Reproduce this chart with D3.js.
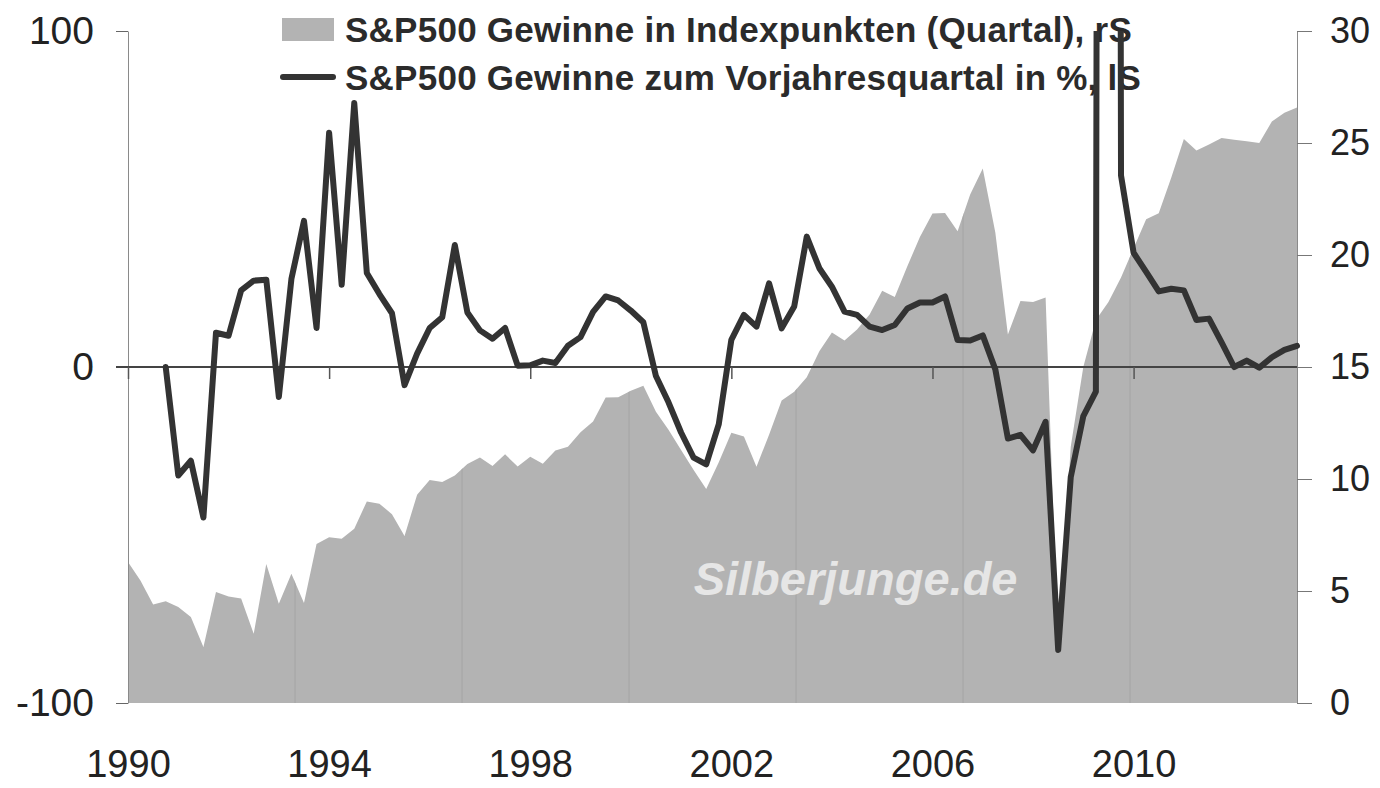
<!DOCTYPE html>
<html>
<head>
<meta charset="utf-8">
<script src="https://cdn.jsdelivr.net/npm/d3@7"></script>
<style>
  body { margin: 0; background: #fff; }
  svg { display: block; font-family: "Liberation Sans", Arial, sans-serif; }
</style>
</head>
<body>
<div class="canvas"></div>
<script>
// tick labels
const yearLabels = ['1990', '1994', '1998', '2002', '2006', '2010']
const leftTicks = [-100, 0, 100]
const rightTicks = [0, 5, 10, 15, 20, 25, 30]

// S&P500 Gewinne in Indexpunkten (Quartal), right axis - 1990 Q1 .. 2013 Q2
const earnings = [
  6.3, 5.46, 4.4, 4.54, 4.29, 3.84, 2.5, 4.95, 4.76, 4.66,
  3.09, 6.2, 4.43, 5.77, 4.46, 7.1, 7.4, 7.33, 7.78, 9.0,
  8.9, 8.43, 7.46, 9.3, 9.95, 9.87, 10.16, 10.67, 10.96, 10.58,
  11.1, 10.56, 10.99, 10.68, 11.27, 11.44, 12.09, 12.57, 13.64, 13.65,
  13.94, 14.16, 13.0, 12.2, 11.3, 10.4, 9.55, 10.75, 12.06, 11.9,
  10.55, 11.98, 13.5, 13.9, 14.54, 15.7, 16.54, 16.18, 16.67, 17.34,
  18.4, 18.13, 19.5, 20.8, 21.85, 21.87, 21.06, 22.7, 23.86, 21.0,
  16.45, 17.95, 17.9, 18.1, 2.4, 11.44, 15.0, 17.1, 17.9, 19.0,
  20.3, 21.6, 21.86, 23.46, 25.18, 24.67, 24.93, 25.22, 25.15, 25.08,
  25.0, 25.96, 26.35, 26.58
]

// S&P500 Gewinne zum Vorjahresquartal in %, left axis (one quarter runs far off the chart)
const yoyChange = [
  null, null, null, 0, -32.3, -27.9, -44.8, 10.2, 9.3, 22.8,
  25.7, 26, -8.9, 26.2, 43.5, 11.6, 69.7, 24.5, 78.6, 28,
  21.7, 16, -5.4, 4, 11.6, 14.8, 36.3, 16.2, 10.9, 8.4,
  11.6, 0.4, 0.5, 1.9, 1.2, 6.3, 8.9, 16.4, 21, 19.8,
  16.8, 13.3, -2.7, -10.5, -19.5, -27, -29, -17, 8.1, 15.5,
  12, 24.9, 11.5, 18, 38.8, 29.4, 23.9, 16.5, 15.5, 12,
  11, 12.5, 17.4, 19.2, 19.2, 21, 8, 7.9, 9.4, -0.7,
  -21.3, -20.2, -24.8, -16.3, -84.2, -32.8, -14.6, -7.3, 2000, 57,
  34, 28.3, 22.5, 23.3, 22.8, 14, 14.4, 7.3, 0, 1.9,
  -0.2, 2.9, 5.1, 6.3
]

const legendLabels = [
  'S&P500 Gewinne in Indexpunkten (Quartal), rS',
  'S&P500 Gewinne zum Vorjahresquartal in %, lS'
]

const quarters = d3.range(earnings.length).map(i => `${1990 + Math.floor(i / 4)} Q${i % 4 + 1}`)

const width = 1380
const height = 788
const xLeft = 128
const xRight = 1297
const yTop = 31
const yBottom = 703

const areaGrey = '#b3b3b3'
const lineColor = '#333333'
const textColor = '#222222'

const svg = d3.select('.canvas').append('svg')
    .attr('width', width)
    .attr('height', height)

const x = d3.scaleLinear().domain([0, earnings.length - 1]).range([xLeft, xRight])
const yLeft = d3.scaleLinear().domain([-100, 100]).range([yBottom, yTop])
const yRight = d3.scaleLinear().domain([0, 30]).range([yBottom, yTop])

const defs = svg.append('defs')

const areaGen = d3.area()
    .x((d, i) => x(i))
    .y0(yRight(0))
    .y1(d => yRight(d))

defs.append('clipPath').attr('id', 'areaClip')
    .append('path').attr('d', areaGen(earnings))

defs.append('clipPath').attr('id', 'plotClip')
    .append('rect')
    .attr('x', xLeft - 10)
    .attr('y', yTop)
    .attr('width', xRight - xLeft + 20)
    .attr('height', yBottom - yTop + 10)

// grey area (right axis)
svg.append('path')
    .attr('d', areaGen(earnings))
    .attr('fill', areaGrey)

// faint vertical lines that show inside the area
const gridX = d3.scaleLinear().domain([0, 7]).range([xLeft, xRight])
svg.append('g')
    .attr('clip-path', 'url(#areaClip)')
    .selectAll('line')
    .data(d3.range(1, 7))
    .join('line')
    .attr('x1', d => gridX(d))
    .attr('x2', d => gridX(d))
    .attr('y1', yTop)
    .attr('y2', yBottom)
    .attr('stroke', '#a4a4a4')
    .attr('stroke-width', 1)

// watermark
svg.append('text')
    .attr('x', x(45))
    .attr('y', yLeft(-68))
    .text('Silberjunge.de')
    .style('font-size', '47px')
    .style('font-weight', 700)
    .style('font-style', 'italic')
    .attr('fill', '#e6e6e6')

// left axis
const leftAxis = svg.append('g')
    .attr('transform', `translate(${xLeft},0)`)
    .call(d3.axisLeft(yLeft).tickValues(leftTicks).tickSize(12).tickSizeOuter(0).tickPadding(22)
        .tickFormat(d => String(d)))
leftAxis.select('.domain').attr('stroke', '#8a8a8a')
leftAxis.selectAll('.tick line').attr('stroke', '#666')
leftAxis.selectAll('text').style('font-size', '39px').attr('fill', textColor)

// right axis
const rightAxis = svg.append('g')
    .attr('transform', `translate(${xRight},0)`)
    .call(d3.axisRight(yRight).tickValues(rightTicks).tickSize(15).tickSizeOuter(0).tickPadding(18))
rightAxis.select('.domain').attr('stroke', '#8a8a8a')
rightAxis.selectAll('.tick line').attr('stroke', '#777')
rightAxis.selectAll('text').style('font-size', '36px').attr('fill', textColor)

// zero line of the left axis
svg.append('line')
    .attr('x1', x(0) - 12)
    .attr('x2', x(earnings.length - 1))
    .attr('y1', yLeft(0))
    .attr('y2', yLeft(0))
    .attr('stroke', '#444')
    .attr('stroke-width', 2)

const yearIndex = yearLabels.map(y => quarters.indexOf(y + ' Q1'))

// small ticks on the zero line
const tickAxis = svg.append('g')
    .attr('transform', `translate(0,${yLeft(0)})`)
    .call(d3.axisBottom(x).tickValues(yearIndex).tickSize(12).tickFormat(''))
tickAxis.select('.domain').remove()
tickAxis.selectAll('.tick line').attr('stroke', '#555').attr('stroke-width', 1.5)

// year labels under the chart
const labelAxis = svg.append('g')
    .attr('transform', `translate(0,${yBottom})`)
    .call(d3.axisBottom(x).tickValues(yearIndex).tickSize(0).tickPadding(47)
        .tickFormat(i => quarters[i].slice(0, 4)))
labelAxis.select('.domain').remove()
labelAxis.selectAll('text').style('font-size', '38px').attr('fill', textColor)

// legend
const legend = svg.append('g')
legend.append('rect')
    .attr('x', 282)
    .attr('y', 18)
    .attr('width', 52)
    .attr('height', 23)
    .attr('fill', areaGrey)
legend.append('line')
    .attr('x1', 283)
    .attr('x2', 333)
    .attr('y1', 77)
    .attr('y2', 77)
    .attr('stroke', lineColor)
    .attr('stroke-width', 6)
    .attr('stroke-linecap', 'round')
legend.selectAll('text')
    .data(legendLabels)
    .join('text')
    .attr('x', 345)
    .attr('y', (d, i) => 42 + i * 48)
    .text(d => d)
    .style('font-size', '35px')
    .style('font-weight', 700)
    .style('letter-spacing', '0.25px')
    .attr('fill', '#2b2b2b')

// yoy line (left axis)
const lineGen = d3.line()
    .defined(d => d !== null)
    .x((d, i) => x(i))
    .y(d => yLeft(d))

svg.append('path')
    .attr('clip-path', 'url(#plotClip)')
    .attr('d', lineGen(yoyChange))
    .attr('fill', 'none')
    .attr('stroke', lineColor)
    .attr('stroke-width', 6)
    .attr('stroke-linejoin', 'round')
    .attr('stroke-linecap', 'round')
</script>
</body>
</html>
